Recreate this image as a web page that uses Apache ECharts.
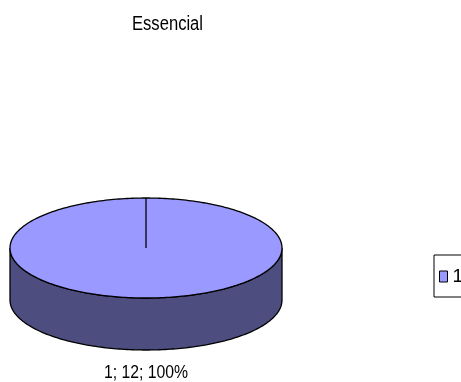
<!DOCTYPE html>
<html>
<head>
<meta charset="utf-8">
<script src="https://cdn.jsdelivr.net/npm/echarts@6/dist/echarts.min.js"></script>
<style>
  html, body { margin: 0; padding: 0; background: #fff; }
  #chart { width: 461px; height: 382px; }
</style>
</head>
<body>
<div id="chart"></div>
<script>
// 数据
const categories = ['1']
const values = [12]
const chartTitle = 'Essencial'

const topColors = ['#9999FF']
const sideColors = ['#4D4D80']

const FONT = '"Liberation Sans", Arial, sans-serif'
// 原图是窄体字（类似 Arial Narrow），这里横向压缩模拟
const NARROW = 0.83

// 3D 饼图几何参数
const CX = 146, CY = 248, RX = 136, RY = 50, DEPTH = 52

const total = values.reduce((a, b) => a + b, 0)

// 椭圆上的点（从 12 点钟方向顺时针）
const pt = (a, dy) => [CX + RX * Math.sin(a), CY - RY * Math.cos(a) + (dy || 0)]

const arcPoints = (a0, a1, dy) => {
  const n = Math.max(2, Math.ceil((a1 - a0) / 0.02))
  const pts = []
  for (let k = 0; k <= n; k++) pts.push(pt(a0 + (a1 - a0) * k / n, dy))
  return pts
}

const chart = echarts.init(document.getElementById('chart'))

const renderItem = (params, api) => {
  const i = params.dataIndex
  const before = values.slice(0, i).reduce((a, b) => a + b, 0)
  const v = api.value(1)
  const a0 = before / total * Math.PI * 2
  const a1 = (before + v) / total * Math.PI * 2
  const children = []

  // 侧面（只画前半部分）
  const s0 = Math.max(a0, Math.PI / 2)
  const s1 = Math.min(a1, Math.PI * 1.5)
  if (s1 > s0) {
    const top = arcPoints(s0, s1, 0)
    const bottom = arcPoints(s0, s1, DEPTH).reverse()
    children.push({
      type: 'polygon',
      shape: { points: top.concat(bottom) },
      style: { fill: sideColors[i % sideColors.length], stroke: '#000', lineWidth: 1.3 }
    })
  }

  // 顶面
  children.push({
    type: 'polygon',
    shape: { points: [[CX, CY]].concat(arcPoints(a0, a1, 0)) },
    style: { fill: topColors[i % topColors.length], stroke: '#000', lineWidth: 1.3 }
  })

  // 数据标签
  const pct = Math.round(v / total * 100)
  const mid = (a0 + a1) / 2
  const lp = pt(mid, 0)
  children.push({
    type: 'text',
    x: lp[0],
    y: lp[1] + (Math.cos(mid) < 0 ? DEPTH + 13 : -20),
    scaleX: NARROW,
    style: {
      x: 0,
      y: 0,
      text: categories[i] + '; ' + v + '; ' + pct + '%',
      align: 'center',
      verticalAlign: 'top',
      fill: '#000',
      font: '19px ' + FONT
    }
  })

  return { type: 'group', children }
}

const option = {
  animation: false,
  graphic: [
    {
      type: 'text',
      x: 132,
      y: 14,
      scaleX: NARROW,
      style: {
        text: chartTitle,
        verticalAlign: 'top',
        fill: '#000',
        font: '20px ' + FONT
      }
    }
  ],
  legend: {
    data: categories,
    left: 434,
    top: 255,
    orient: 'vertical',
    icon: 'rect',
    itemWidth: 8,
    itemHeight: 11,
    padding: [12, 6, 11, 5],
    borderColor: '#000',
    borderWidth: 1,
    itemStyle: { borderColor: '#000', borderWidth: 1 },
    textStyle: { fontFamily: FONT, fontSize: 19, color: '#000' }
  },
  series: [
    {
      name: categories[0],
      type: 'custom',
      coordinateSystem: 'none',
      itemStyle: { color: topColors[0] },
      renderItem,
      data: values.map((v, i) => [i, v])
    }
  ]
}

chart.setOption(option)
</script>
</body>
</html>
